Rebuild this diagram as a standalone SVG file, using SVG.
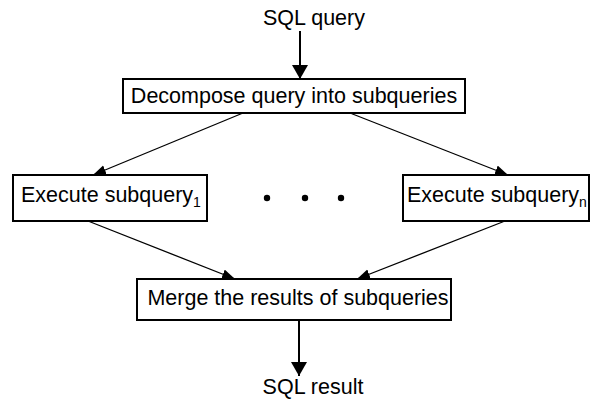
<svg xmlns="http://www.w3.org/2000/svg" width="596" height="401" viewBox="0 0 596 401">
  <style>
    .box { fill: #fff; stroke: #000; stroke-width: 2; }
    .lbl { font-family: "Liberation Sans", Arial, sans-serif; font-size: 21.5px; fill: #000; }
    .sub { font-size: 14px; fill: #000; }
    .edge { stroke: #000; stroke-width: 1.3; fill: none; }
    .io { stroke: #000; stroke-width: 2; fill: none; }
    .dot { fill: #000; }
  </style>
  <defs>
    <marker id="head" markerUnits="userSpaceOnUse" markerWidth="14" markerHeight="12" refX="13" refY="5" orient="auto">
      <path d="M0,0 L13,5 L0,10 z" fill="#000"/>
    </marker>
    <marker id="headBig" markerUnits="userSpaceOnUse" markerWidth="15" markerHeight="18" refX="14" refY="8" orient="auto">
      <path d="M0,0 L14,8 L0,16 z" fill="#000"/>
    </marker>
  </defs>

  <g id="connectors">
    <line class="io" x1="300" y1="31" x2="300" y2="79" marker-end="url(#headBig)"/>
    <line class="edge" x1="243" y1="113" x2="93" y2="175" marker-end="url(#head)"/>
    <line class="edge" x1="350" y1="113" x2="508" y2="175" marker-end="url(#head)"/>
    <line class="edge" x1="88" y1="221" x2="235" y2="279" marker-end="url(#head)"/>
    <line class="edge" x1="505" y1="221" x2="357" y2="279" marker-end="url(#head)"/>
    <line class="io" x1="299" y1="320" x2="299" y2="376" marker-end="url(#headBig)"/>
  </g>

  <g id="input">
    <text class="lbl" x="314" y="25" text-anchor="middle">SQL query</text>
  </g>

  <g id="decompose">
    <rect class="box" x="123" y="79" width="342" height="34"/>
    <text class="lbl" x="294" y="103" text-anchor="middle">Decompose query into subqueries</text>
  </g>

  <g id="exec1">
    <rect class="box" x="13" y="175" width="194" height="46"/>
    <text class="lbl" x="21" y="202">Execute subquery<tspan class="sub" dy="5">1</tspan></text>
  </g>

  <g id="ellipsis">
    <circle class="dot" cx="267" cy="198" r="3.2"/>
    <circle class="dot" cx="305" cy="198" r="3.2"/>
    <circle class="dot" cx="341" cy="198" r="3.2"/>
  </g>

  <g id="execN">
    <rect class="box" x="403" y="175" width="186" height="46"/>
    <text class="lbl" x="407" y="202">Execute subquery<tspan class="sub" dy="5">n</tspan></text>
  </g>

  <g id="merge">
    <rect class="box" x="137" y="279" width="314" height="41"/>
    <text class="lbl" x="298" y="305" text-anchor="middle">Merge the results of subqueries</text>
  </g>

  <g id="output">
    <text class="lbl" x="313" y="394" text-anchor="middle">SQL result</text>
  </g>
</svg>
